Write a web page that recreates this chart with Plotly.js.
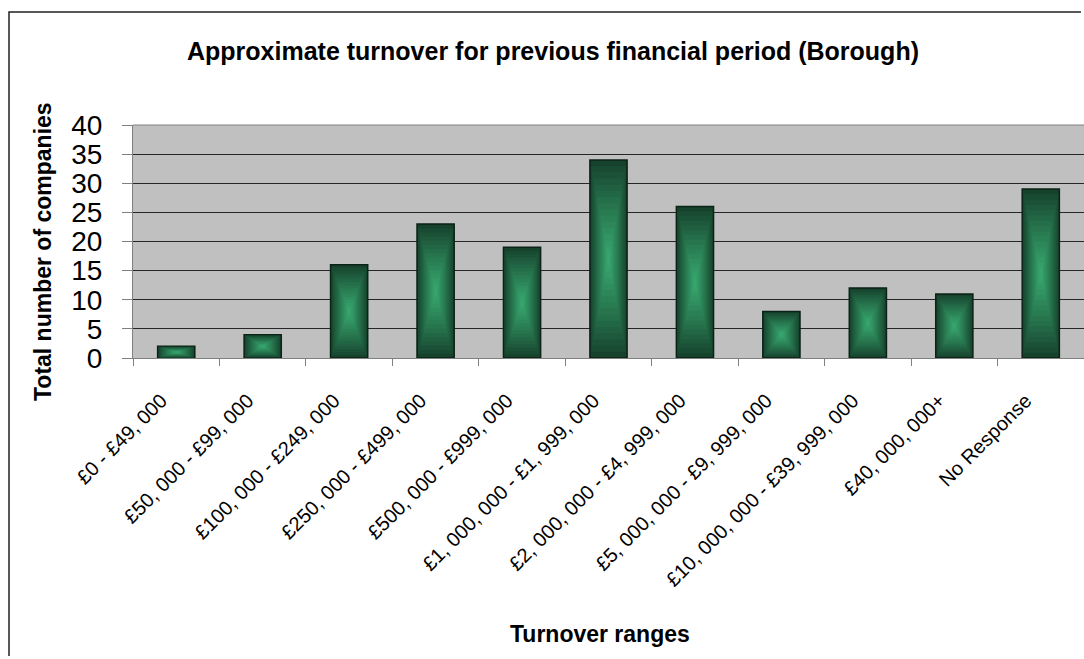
<!DOCTYPE html>
<html>
<head>
<meta charset="utf-8">
<script src="https://cdn.plot.ly/plotly-3.0.1.min.js"></script>
<style>
html,body{margin:0;padding:0;background:#fff;overflow:hidden;}
#chart{width:1084px;height:659px;overflow:hidden;}
</style>
</head>
<body>
<div id="chart"></div>
<script>
// ---- data ----
const categories = [
  "£0 - £49, 000",
  "£50, 000 - £99, 000",
  "£100, 000 - £249, 000",
  "£250, 000 - £499, 000",
  "£500, 000 - £999, 000",
  "£1, 000, 000 - £1, 999, 000",
  "£2, 000, 000 - £4, 999, 000",
  "£5, 000, 000 - £9, 999, 000",
  "£10, 000, 000 - £39, 999, 000",
  "£40, 000, 000+",
  "No Response"
];
const companies = [2, 4, 16, 23, 19, 34, 26, 8, 12, 11, 29];
const yTicks = [0, 5, 10, 15, 20, 25, 30, 35, 40];

const chartTitle = "Approximate turnover for previous financial period (Borough)";
const xTitle = "Turnover ranges";
const yTitle = "Total number of companies";

// ---- styling ----
const BAR_W = 0.43;
const LAYERS = 16;
const edge = [22, 66, 44];
const centre = [55, 166, 110];
const sans = "Liberation Sans, Arial, sans-serif";

function mix(s) {
  const c = edge.map((e, i) => Math.round(e + (centre[i] - e) * s));
  return "rgb(" + c.join(",") + ")";
}

// concentric layers imitate the "from centre" gradient fill
const traces = [];
for (let k = 0; k < LAYERS; k++) {
  const t = 0.5 * k / LAYERS;
  const s = k / (LAYERS - 1);
  traces.push({
    type: "bar",
    x: categories,
    y: companies.map(v => v * (1 - 2 * t)),
    base: companies.map(v => v * t),
    width: BAR_W * (1 - 2 * t),
    marker: {
      color: mix(Math.pow(s, 0.9)),
      line: k === 0 ? {color: "#0b2216", width: 1.5} : {width: 0}
    },
    hoverinfo: "skip",
    showlegend: false
  });
}

const L = 133, T = 125, PW = 951, PH = 233;
const px2x = px => (px - L) / PW;
const py2y = py => (T + PH - py) / PH;

// chart-area frame (left and top edges; the rest is cropped off in the reference)
const fx0 = px2x(9), fy0 = py2y(12), fyb = py2y(656), fx1 = px2x(1081);
const framePath = "M " + fx0 + "," + fyb + " L " + fx0 + "," + fy0 + " L " + fx1 + "," + fy0;

const layout = {
  width: 1084,
  height: 659,
  autosize: false,
  margin: {l: L, r: 0, t: T, b: 659 - T - PH, pad: 0},
  paper_bgcolor: "#ffffff",
  plot_bgcolor: "#c0c0c0",
  barmode: "overlay",
  showlegend: false,
  title: {
    text: chartTitle,
    font: {family: sans, size: 25, color: "#000", weight: 700},
    x: 553 / 1084, xanchor: "center",
    y: 1 - 51 / 659, yanchor: "middle"
  },
  xaxis: {
    type: "category",
    tickson: "boundaries",
    ticks: "outside",
    ticklen: 7,
    tickcolor: "#808080",
    tickangle: -45,
    ticklabelstandoff: 22,
    ticklabelshift: -15,
    tickfont: {family: sans, size: 20, color: "#000"},
    showline: true,
    linecolor: "#808080",
    linewidth: 1,
    mirror: false,
    showgrid: false,
    zeroline: false,
    automargin: false,
    fixedrange: true
  },
  yaxis: {
    range: [0, 40],
    tickvals: yTicks,
    ticktext: yTicks.map(String),
    ticks: "outside",
    ticklen: 10,
    tickcolor: "#808080",
    ticklabelstandoff: 14,
    tickfont: {family: sans, size: 28, color: "#000"},
    showline: true,
    linecolor: "#808080",
    linewidth: 1,
    showgrid: true,
    gridcolor: "#262626",
    gridwidth: 1,
    zeroline: false,
    automargin: false,
    fixedrange: true
  },
  annotations: [
    {
      text: yTitle,
      xref: "paper", yref: "paper",
      x: px2x(43), y: py2y(252),
      xanchor: "center", yanchor: "middle",
      textangle: -90,
      showarrow: false,
      font: {family: sans, size: 23, color: "#000", weight: 700}
    },
    {
      text: xTitle,
      xref: "paper", yref: "paper",
      x: px2x(600), y: py2y(634),
      xanchor: "center", yanchor: "middle",
      showarrow: false,
      font: {family: sans, size: 23, color: "#000", weight: 700}
    }
  ],
  shapes: [
    {
      type: "line", xref: "paper", yref: "paper",
      x0: 0, x1: 1, y0: 1, y1: 1,
      line: {color: "#808080", width: 1}
    },
    {
      type: "path", xref: "paper", yref: "paper",
      path: framePath,
      fillcolor: "rgba(0,0,0,0)",
      line: {color: "#222", width: 1.5}
    }
  ]
};

Plotly.newPlot("chart", traces, layout, {staticPlot: true, displayModeBar: false});
</script>
</body>
</html>
